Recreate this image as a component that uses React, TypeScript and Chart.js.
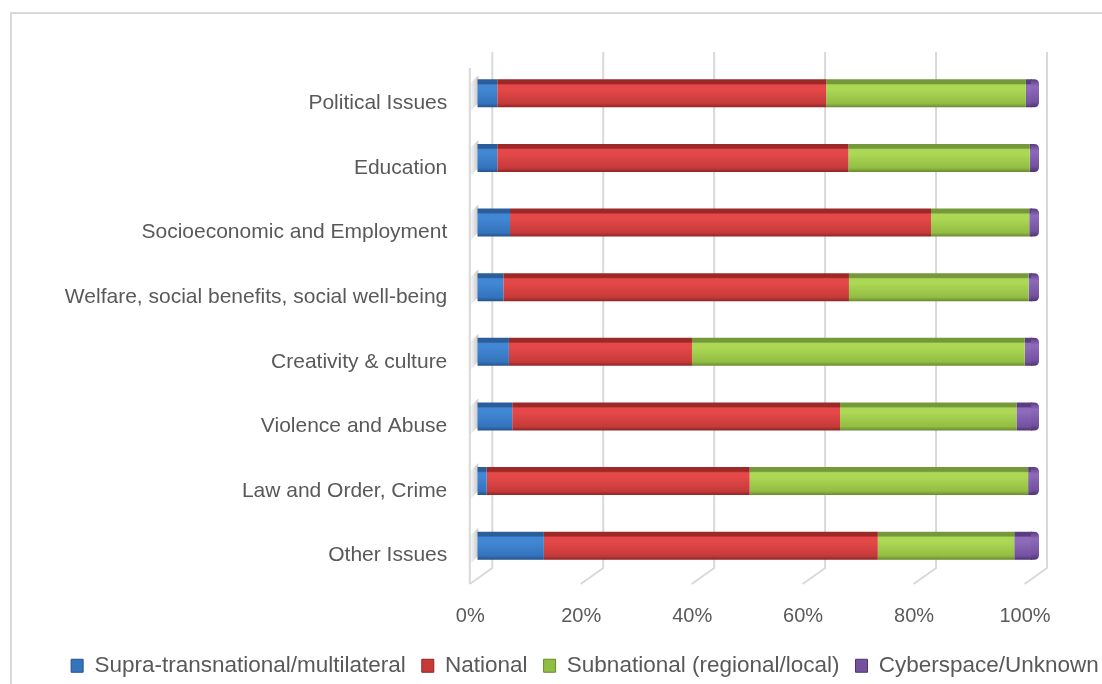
import React, { useEffect, useRef } from "react";
import { Chart, registerables } from "chart.js";

Chart.register(...registerables);

const categories = [
  "Political Issues",
  "Education",
  "Socioeconomic and Employment",
  "Welfare, social benefits, social well-being",
  "Creativity & culture",
  "Violence and Abuse",
  "Law and Order, Crime",
  "Other Issues",
];
const seriesNames = [
  "Supra-transnational/multilateral",
  "National",
  "Subnational (regional/local)",
  "Cyberspace/Unknown",
];
const supra = [3.6, 3.6, 5.9, 4.7, 5.7, 6.3, 1.7, 12.0];
const national = [59.3, 63.3, 75.9, 62.3, 33.0, 59.1, 47.4, 60.2];
const subnational = [36.0, 32.7, 17.7, 32.4, 60.0, 31.8, 50.2, 24.6];
const cyber = [1.1, 0.4, 0.5, 0.6, 1.3, 2.8, 0.7, 3.2];
const xTicks = [0, 20, 40, 60, 80, 100];

// colour ramps: [top strip, bright, mid, bottom]
const PALETTE = [
  ["#2a5d99", "#4287d4", "#3473bd", "#25528a"],
  ["#9c2828", "#e54848", "#c63a3a", "#8e2525"],
  ["#75983a", "#acd855", "#92bd43", "#69892f"],
  ["#5a3c80", "#8d6aba", "#7452a0", "#4f3370"],
];
const BAR_FRACTION = 0.433;
const FONT = "'Liberation Sans', Arial, sans-serif";
const TEXT = "#595959";
const GRID = "#d9d9d9";
const PAD_LEFT = 40;
const PAD_RIGHT = -28;
const PLOT_LEFT = 477.3;
const PLOT_RIGHT = 1032;
const W = 1102;
const H = 684;

function barFill(seriesIndex: number) {
  return (ctx: any) => {
    const pal = PALETTE[seriesIndex];
    const chart = ctx.chart;
    const ys = chart.scales && chart.scales.y;
    const ca = chart.chartArea;
    if (ctx.dataIndex === undefined || !ys || !ca) return pal[2];
    const c = ys.getPixelForValue(ctx.dataIndex);
    const h = ((ca.bottom - ca.top) / categories.length) * BAR_FRACTION;
    const g = chart.ctx.createLinearGradient(0, c - h / 2, 0, c + h / 2);
    g.addColorStop(0, pal[0]);
    g.addColorStop(0.15, pal[0]);
    g.addColorStop(0.2, pal[1]);
    g.addColorStop(0.36, pal[1]);
    g.addColorStop(0.86, pal[2]);
    g.addColorStop(1, pal[3]);
    return g;
  };
}

const framePlugin = {
  id: "frame",
  beforeDraw(chart: any) {
    const c = chart.ctx;
    c.save();
    c.strokeStyle = GRID;
    c.lineWidth = 2;
    c.beginPath();
    c.moveTo(11, 800);
    c.lineTo(11, 13);
    c.lineTo(1300, 13);
    c.stroke();
    c.restore();
  },
};

const wallsPlugin = {
  id: "walls",
  beforeDatasetsDraw(chart: any) {
    const c = chart.ctx;
    const xs = chart.scales.x;
    const ca = chart.chartArea;
    const backTop = ca.top - 9;
    const backBottom = ca.bottom - 10;
    const front = ca.bottom + 6;
    c.save();
    c.strokeStyle = GRID;
    c.lineWidth = 2;
    xTicks.forEach((v) => {
      const px = xs.getPixelForValue(v);
      const bx = px + 15;
      const fx = px - 7.5;
      c.beginPath();
      c.moveTo(bx, backTop);
      c.lineTo(bx, backBottom);
      c.lineTo(fx, front);
      c.stroke();
      if (v === xTicks[0]) {
        c.beginPath();
        c.moveTo(fx, ca.top + 7);
        c.lineTo(fx, front);
        c.stroke();
      }
    });
    // soft shadows of the bars on the left wall
    const meta = chart.getDatasetMeta(0);
    meta.data.forEach((el: any) => {
      const top = el.y - el.height / 2;
      const x0 = xs.getPixelForValue(0);
      const g = c.createLinearGradient(x0 - 8, 0, x0 + 2, 0);
      g.addColorStop(0, "rgba(120,120,120,0)");
      g.addColorStop(1, "rgba(120,120,120,0.45)");
      c.fillStyle = g;
      c.beginPath();
      c.moveTo(x0 - 7, top + 4);
      c.lineTo(x0 + 1, top - 4);
      c.lineTo(x0 + 1, top + el.height - 4);
      c.lineTo(x0 - 7, top + el.height + 4);
      c.closePath();
      c.fill();
    });
    c.restore();
  },
};

const capPlugin = {
  id: "endcap",
  afterDatasetsDraw(chart: any) {
    const c = chart.ctx;
    const last = chart.data.datasets.length - 1;
    const meta = chart.getDatasetMeta(last);
    const pal = PALETTE[last];
    c.save();
    meta.data.forEach((el: any) => {
      const x = el.x;
      const top = el.y - el.height / 2;
      const bot = el.y + el.height / 2;
      const g = c.createLinearGradient(0, top, 0, bot);
      g.addColorStop(0, pal[0]);
      g.addColorStop(0.25, pal[1]);
      g.addColorStop(0.8, pal[2]);
      g.addColorStop(1, pal[3]);
      c.fillStyle = g;
      c.beginPath();
      c.moveTo(x - 1, top);
      c.lineTo(x + 2, top);
      c.quadraticCurveTo(x + 7, top, x + 7, top + 5);
      c.lineTo(x + 7, bot - 5);
      c.quadraticCurveTo(x + 7, bot, x + 2, bot);
      c.lineTo(x - 1, bot);
      c.closePath();
      c.fill();
    });
    c.restore();
  },
};

export default function App() {
  const ref = useRef<HTMLCanvasElement | null>(null);

  useEffect(() => {
    if (!ref.current) return;
    const series = [supra, national, subnational, cyber];
    const chart = new Chart(ref.current, {
      type: "bar",
      data: {
        labels: categories,
        datasets: series.map((vals, i) => ({
          label: seriesNames[i],
          data: vals,
          backgroundColor: barFill(i),
          borderWidth: 0,
          barPercentage: BAR_FRACTION,
          categoryPercentage: 1,
          xAxisID: "x",
          yAxisID: "y",
        })),
      },
      options: {
        indexAxis: "y",
        responsive: false,
        animation: false,
        devicePixelRatio: 1,
        layout: { padding: { left: PAD_LEFT, right: PAD_RIGHT, top: 61, bottom: -3 } },
        font: { family: FONT },
        scales: {
          x: {
            stacked: true,
            min: 0,
            max: 100,
            grid: { display: false, drawTicks: false },
            border: { display: false },
            afterBuildTicks: (s: any) => {
              s.ticks = xTicks.map((v) => ({ value: v }));
            },
            afterFit: (s: any) => {
              s.height = 60.5;
            },
            ticks: {
              color: TEXT,
              font: { family: FONT, size: 20 },
              padding: 26,
              labelOffset: -7,
              maxRotation: 0,
              callback: (v: any) => v + "%",
            },
          },
          y: {
            stacked: true,
            grid: { display: false, drawTicks: false },
            border: { display: false },
            afterFit: (s: any) => {
              s.width = PLOT_LEFT - PAD_LEFT;
            },
            ticks: {
              color: TEXT,
              font: { family: FONT, size: 21 },
              padding: 30,
              labelOffset: 10,
            },
          },
          depth: {
            type: "linear",
            position: "right",
            display: true,
            grid: { display: false, drawTicks: false },
            border: { display: false },
            ticks: { display: false },
            afterFit: (s: any) => {
              s.width = W - PAD_RIGHT - PLOT_RIGHT;
            },
          },
        },
        plugins: {
          tooltip: { enabled: false },
          legend: {
            position: "bottom",
            labels: {
              color: TEXT,
              font: { family: FONT, size: 22.5 },
              boxWidth: 12,
              boxHeight: 13,
              padding: 16,
              generateLabels: (ch: any) =>
                ch.data.datasets.map((ds: any, i: number) => ({
                  text: ds.label,
                  fillStyle: PALETTE[i][2],
                  strokeStyle: PALETTE[i][3],
                  lineWidth: 1,
                  hidden: false,
                  datasetIndex: i,
                  fontColor: TEXT,
                })),
            },
          },
        },
      },
      plugins: [framePlugin, wallsPlugin, capPlugin],
    } as any);
    return () => chart.destroy();
  }, []);

  return (
    <div style={{ position: "fixed", left: 0, top: 0, width: W, height: H, background: "#fff" }}>
      <canvas ref={ref} width={W} height={H} style={{ display: "block", width: W, height: H }} />
    </div>
  );
}
